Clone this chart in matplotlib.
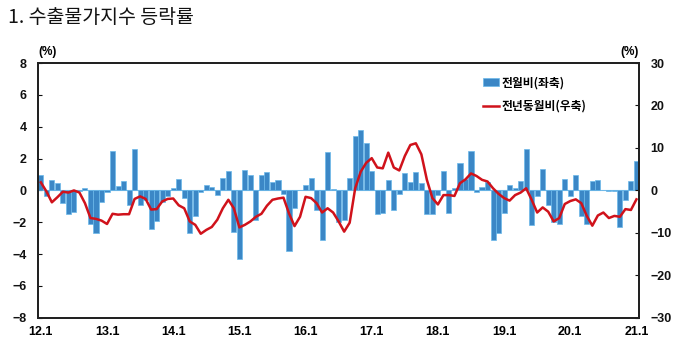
import numpy as np
import matplotlib
matplotlib.use('Agg')
import matplotlib.pyplot as plt
from matplotlib.patches import Patch
from matplotlib.lines import Line2D

plt.rcParams['font.family'] = ['Liberation Sans', 'Noto Sans CJK KR', 'DejaVu Sans']

# 월별 데이터 (2012.1 ~ 2021.1)
mom = [  # 전월비 (%) - 좌축
    1.0, -0.35, 0.65, 0.45, -0.8, -1.45, -1.35, -0.05, 0.15, -2.1, -2.7, -0.75,
    -0.1, 2.45, 0.3, 0.6, -0.9, 2.6, -0.9, -0.6, -2.45, -1.9, -0.7, -0.35,
    0.15, 0.7, -0.45, -2.7, -1.6, -0.1, 0.35, 0.2, -0.3, 0.75, 1.2, -2.6,
    -4.3, 1.3, 0.95, -1.85, 1.0, 1.15, 0.55, 0.65, -0.2, -3.8, -1.1, 0.05,
    0.35, 0.8, -1.25, -3.1, 2.4, 0.1, -2.0, -1.85, 0.75, 3.4, 3.8, 3.0,
    1.2, -1.5, -1.4, 0.65, -1.2, -0.25, 1.1, 0.55, 1.15, 0.45, -1.5, -1.5,
    -0.3, 1.2, -1.4, 0.15, 1.75, 0.7, 2.5, -0.1, 0.2, 0.55, -3.1, -2.7,
    -1.4, 0.35, 0.15, 0.6, 2.6, -2.2, -0.35, 1.35, -0.9, -2.0, -2.1, 0.7,
    -0.35, 0.95, -1.6, -2.1, 0.6, 0.65, 0.05, -0.05, -0.05, -2.3, -0.6, 0.6,
    1.85,
]
yoy = [  # 전년동월비 (%) - 우축
    1.9, -0.2, -2.8, -1.6, -0.3, -0.5, 0.0, -0.5, -3.0, -6.5, -6.7, -7.1,
    -7.9, -5.5, -5.7, -5.6, -5.6, -2.0, -1.4, -2.0, -4.5, -4.4, -2.6, -2.0,
    -1.9, -3.5, -4.2, -7.3, -8.1, -10.2, -9.3, -8.6, -6.9, -4.2, -2.2, -4.2,
    -8.7, -8.1, -7.3, -6.2, -5.5, -3.6, -2.2, -1.9, -1.7, -5.4, -8.4, -6.2,
    -1.5, -1.8, -3.0, -5.2, -4.2, -5.2, -7.3, -9.7, -7.6, 0.5, 4.4, 6.5,
    7.6, 5.4, 5.2, 8.9, 5.4, 4.7, 8.1, 10.7, 11.1, 8.5, 2.5, -1.8,
    -3.3, -1.1, -1.1, -1.3, 1.7, 2.6, 4.0, 3.4, 2.5, 2.1, 0.5, -0.8,
    -1.8, -2.4, -1.1, -0.5, 0.5, -2.2, -5.2, -4.0, -5.0, -7.3, -6.5, -3.2,
    -2.5, -2.1, -3.0, -6.0, -8.3, -5.9, -5.2, -6.5, -6.0, -6.2, -4.4, -4.6,
    -2.1,
]
year_labels = ['12.1', '13.1', '14.1', '15.1', '16.1', '17.1', '18.1', '19.1', '20.1', '21.1']

x = np.arange(len(mom))

fig = plt.figure(figsize=(6.8, 3.52), dpi=100)
ax = fig.add_axes([0.056, 0.097, 0.884, 0.724])
ax2 = ax.twinx()

ax.axhline(0, color='#7fbfe8', lw=0.8, zorder=1)
ax.bar(x, mom, width=0.92, color='#3b87c6', edgecolor='#6ab8ea', linewidth=0.5, zorder=2)
ax2.plot(x, yoy, color='#d0121b', lw=1.8, zorder=3)

ax.set_xlim(-0.5, len(mom) - 0.5)
ax.set_ylim(-8, 8)
ax.set_yticks(range(-8, 9, 2))
ax2.set_ylim(-30, 30)
ax2.set_yticks(range(-30, 31, 10))

ax.set_xticks(np.arange(0, len(mom), 12))
ax.set_xticklabels(year_labels)

for a in (ax, ax2):
    for s in a.spines.values():
        s.set_linewidth(1.4)
        s.set_color('#222222')
    a.tick_params(axis='y', direction='in', length=3, width=0.8, pad=8,
                  labelsize=9, colors='#111111')
    for lab in a.get_yticklabels():
        lab.set_fontweight('bold')
ax.tick_params(axis='x', length=0, pad=6, labelsize=9)
for lab in ax.get_xticklabels():
    lab.set_fontweight('bold')

ax.text(0.0, 1.02, '(%)', transform=ax.transAxes, fontsize=8.5, fontweight='bold',
        ha='left', va='bottom')
ax.text(1.0, 1.02, '(%)', transform=ax.transAxes, fontsize=8.5, fontweight='bold',
        ha='right', va='bottom')

handles = [Patch(facecolor='#3b87c6', edgecolor='#6ab8ea', linewidth=0.5),
           Line2D([0], [0], color='#d0121b', lw=1.8)]
ax2.legend(handles, ['전월비(좌축)', '전년동월비(우축)'], loc='upper right',
           bbox_to_anchor=(0.93, 0.99), frameon=False,
           prop={'weight': 'bold', 'size': 8.5, 'family': ['Noto Sans CJK KR']},
           handlelength=1.4, handleheight=0.6, handletextpad=0.2, labelspacing=0.9)

fig.text(0.012, 0.95, '1. 수출물가지수 등락률', fontsize=14, fontweight='medium',
         family=['Noto Sans CJK KR'], ha='left', va='center', color='#111111')

fig.savefig('out.png', dpi=100)
